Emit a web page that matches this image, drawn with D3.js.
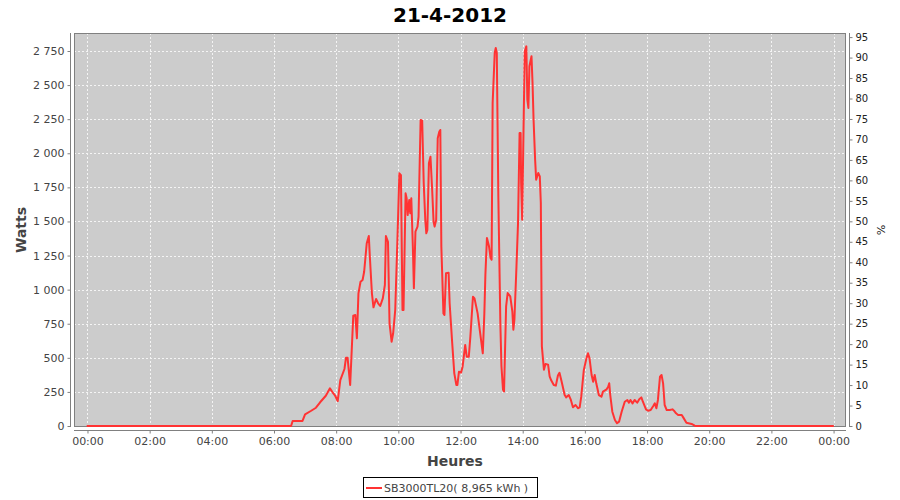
<!DOCTYPE html>
<html>
<head>
<meta charset="utf-8">
<script src="https://cdn.jsdelivr.net/npm/d3@7"></script>
<style>
  html, body { margin: 0; padding: 0; background: #ffffff; }
  svg { display: block; }
  text { font-family: "DejaVu Sans", Verdana, sans-serif; }
</style>
</head>
<body>
<svg id="chart" width="900" height="500"></svg>
<script>
// ---------- DATA ----------
const chartTitle = "21-4-2012";
const seriesName = "SB3000TL20( 8,965 kWh )";
const times = [
  "00:00","06:25","06:33","06:36","06:55","07:00","07:11","07:21","07:29","07:40",
  "07:48","07:53","07:58","08:03","08:08","08:16","08:19","08:22","08:27","08:33",
  "08:37","08:40","08:43","08:47","08:51","08:54","08:59","09:03","09:05","09:09",
  "09:12","09:17","09:21","09:25","09:30","09:34","09:36","09:40","09:43","09:47",
  "09:50","09:54","09:58","10:02","10:05","10:08","10:10","10:14","10:16","10:18",
  "10:21","10:23","10:25","10:28","10:30","10:33","10:37","10:39","10:43","10:46",
  "10:49","10:52","10:54","10:56","10:59","11:02","11:05","11:08","11:10","11:13",
  "11:16","11:19","11:21","11:23","11:27","11:29","11:32","11:37","11:39","11:44",
  "11:48","11:52","11:54","11:57","12:01","12:04","12:09","12:12","12:16","12:19",
  "12:24","12:27","12:33","12:38","12:43","12:46","12:48","12:51","12:55","12:58",
  "13:00","13:02","13:06","13:08","13:10","13:13","13:17","13:19","13:22","13:24",
  "13:28","13:31","13:36","13:40","13:42","13:44","13:48","13:51","13:54","13:56",
  "13:57","13:59","14:02","14:04","14:07","14:09","14:11","14:13","14:17","14:19",
  "14:21","14:24","14:26","14:30","14:33","14:35","14:37","14:41","14:44","14:49",
  "14:52","14:55","15:00","15:04","15:08","15:11","15:15","15:21","15:24","15:29",
  "15:33","15:37","15:42","15:47","15:50","15:53","15:58","16:03","16:06","16:09",
  "16:13","16:16","16:19","16:22","16:27","16:32","16:35","16:42","16:45","16:47",
  "16:49","16:53","16:58","17:02","17:06","17:11","17:17","17:22","17:25","17:28",
  "17:32","17:36","17:41","17:45","17:49","17:52","17:58","18:02","18:07","18:12",
  "18:15","18:18","18:21","18:25","18:28","18:31","18:34","18:38","18:44","18:49",
  "18:52","18:56","19:00","19:07","19:11","19:16","19:26","19:32","19:35","23:59"
];
const watts = [
  0,0,0,37,37,86,110,134,174,222,
  276,247,222,183,337,418,501,501,301,809,
  814,643,973,1058,1071,1131,1340,1393,1241,973,
  870,931,900,880,936,1034,1393,1351,753,618,
  680,851,1340,1853,1840,851,851,1706,1670,1547,
  1657,1560,1670,1315,1010,1425,1462,1535,2244,2239,
  1780,1511,1413,1437,1927,1975,1755,1498,1462,1511,
  2110,2158,2171,1315,826,814,1120,1124,900,606,
  386,301,301,398,391,435,594,508,508,655,
  948,936,826,680,533,826,1110,1379,1318,1232,
  1220,2369,2735,2772,2735,1684,731,438,266,254,
  878,975,951,841,706,780,1171,1489,2149,2149,
  1782,1513,2271,2748,2784,2393,2332,2638,2711,2515,
  2246,1953,1806,1855,1831,1635,584,413,455,450,
  364,335,300,296,370,390,328,227,210,227,
  191,137,154,130,137,215,411,496,533,496,
  374,325,374,313,227,215,252,269,288,313,
  227,105,44,20,32,105,178,191,171,191,
  166,191,171,196,210,178,122,112,117,147,
  166,130,191,362,374,313,154,117,117,122,
  112,93,81,81,56,24,15,2,0,0
];
const xTickLabels = ["00:00","02:00","04:00","06:00","08:00","10:00","12:00","14:00","16:00","18:00","20:00","22:00","00:00"];
const wattTicks = [0,250,500,750,1000,1250,1500,1750,2000,2250,2500,2750];
const pctTicks = [0,5,10,15,20,25,30,35,40,45,50,55,60,65,70,75,80,85,90,95];

// ---------- LAYOUT ----------
const svg = d3.select("#chart");
const P = { left: 74, right: 846, top: 33, bottom: 427 };
const zeroY = 426;

const toMin = s => { const [h, m] = s.split(":").map(Number); return h * 60 + m; };
const data = times.map((t, i) => ({ t: toMin(t), w: watts[i] }));
const xTickMins = xTickLabels.map((d, i) => i * 120);

const x = d3.scaleLinear().domain([-26, 1464]).range([P.left, P.right]);
const y = d3.scaleLinear().domain([0, 2882]).range([zeroY, P.top]);
const yPct = d3.scaleLinear().domain([0, 96]).range([zeroY, P.top]);

const loc = d3.formatLocale({ decimal: ",", thousands: "\u00a0", grouping: [3], currency: ["", ""] });
const fmtW = v => loc.format(",d")(v).replace(/\u00a0/g, " ");

// plot background
svg.append("rect").attr("x", P.left).attr("y", P.top)
  .attr("width", P.right - P.left).attr("height", P.bottom - P.top)
  .attr("fill", "#cccccc");

// gridlines
const grid = svg.append("g").attr("stroke", "#ffffff").attr("stroke-width", 1)
  .attr("stroke-dasharray", "2,2").attr("opacity", 0.8);
grid.selectAll(".vg").data(xTickMins).join("line")
  .attr("x1", d => Math.round(x(d)) + 0.5).attr("x2", d => Math.round(x(d)) + 0.5)
  .attr("y1", P.top).attr("y2", P.bottom);
grid.selectAll(".hg").data(wattTicks).join("line")
  .attr("x1", P.left).attr("x2", P.right)
  .attr("y1", d => Math.round(y(d)) + 0.5).attr("y2", d => Math.round(y(d)) + 0.5);

// plot border
svg.append("rect").attr("x", P.left + 0.5).attr("y", P.top + 0.5)
  .attr("width", P.right - P.left - 1).attr("height", P.bottom - P.top - 1)
  .attr("fill", "none").attr("stroke", "#808080").attr("stroke-width", 1);

// clip
svg.append("clipPath").attr("id", "clip").append("rect")
  .attr("x", P.left).attr("y", P.top).attr("width", P.right - P.left).attr("height", P.bottom - P.top + 1);

// series line
const line = d3.line().x(d => x(d.t)).y(d => y(d.w));
svg.append("path").datum(data).attr("clip-path", "url(#clip)")
  .attr("fill", "none").attr("stroke", "#ff3333").attr("stroke-width", 2)
  .attr("stroke-linejoin", "round").attr("stroke-linecap", "round")
  .attr("d", line);

// axes
function styleAxis(g, color, size) {
  g.select(".domain").attr("stroke", "#808080");
  g.selectAll(".tick line").attr("stroke", "#808080");
  g.selectAll(".tick text").attr("fill", color).attr("font-size", size)
    .attr("font-family", "DejaVu Sans, sans-serif");
}

const gL = svg.append("g").attr("transform", "translate(70.5,0)")
  .call(d3.axisLeft(y).tickValues(wattTicks).tickFormat(fmtW).tickSizeInner(3).tickSizeOuter(0).tickPadding(3));
gL.select(".domain").attr("d", `M0,${P.top}V${P.bottom}`);
styleAxis(gL, "#444444", 11);

const gR = svg.append("g").attr("transform", "translate(849.5,0)")
  .call(d3.axisRight(yPct).tickValues(pctTicks).tickSizeInner(3).tickSizeOuter(0).tickPadding(3));
gR.select(".domain").attr("d", `M0,${P.top}V${P.bottom}`);
styleAxis(gR, "#222222", 10);

const gB = svg.append("g").attr("transform", "translate(0,430.5)")
  .call(d3.axisBottom(x).tickValues(xTickMins).tickFormat((d, i) => xTickLabels[i]).tickSizeInner(3).tickSizeOuter(0).tickPadding(4));
gB.select(".domain").attr("d", `M${P.left},0H${P.right}`);
styleAxis(gB, "#444444", 11);

// titles
svg.append("text").attr("x", 450).attr("y", 22).attr("text-anchor", "middle")
  .attr("font-size", 20).attr("font-weight", "bold").attr("fill", "#000")
  .text(chartTitle);

svg.append("text").attr("transform", `translate(26,${(P.top + P.bottom) / 2}) rotate(-90)`)
  .attr("text-anchor", "middle").attr("font-size", 14).attr("font-weight", "bold").attr("fill", "#444")
  .text("Watts");

svg.append("text").attr("transform", `translate(877,${(P.top + P.bottom) / 2}) rotate(90)`)
  .attr("text-anchor", "middle").attr("font-size", 11).attr("fill", "#222")
  .text("%");

svg.append("text").attr("x", 455).attr("y", 466).attr("text-anchor", "middle")
  .attr("font-size", 14).attr("font-weight", "bold").attr("fill", "#444")
  .text("Heures");

// legend
const lg = svg.append("g");
lg.append("rect").attr("x", 363.5).attr("y", 477.5).attr("width", 174).attr("height", 20)
  .attr("fill", "#fff").attr("stroke", "#000").attr("stroke-width", 1);
lg.append("line").attr("x1", 366).attr("x2", 382).attr("y1", 488).attr("y2", 488)
  .attr("stroke", "#ff3333").attr("stroke-width", 2);
lg.append("text").attr("x", 384).attr("y", 492).attr("font-size", 11).attr("fill", "#444")
  .text(seriesName);
</script>
</body>
</html>
